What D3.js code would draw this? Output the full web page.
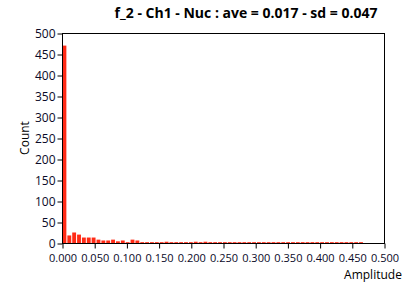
<!DOCTYPE html>
<html>
<head>
<meta charset="utf-8">
<script src="https://cdn.jsdelivr.net/npm/d3@7"></script>
<style>
  body { margin: 0; background: #fff; }
  svg text { font-family: "Segoe UI", "Open Sans", "DejaVu Sans", sans-serif; }
</style>
</head>
<body>
<div id="chart"></div>
<script>
// Histogram of amplitudes
const binWidth = 0.00755;
const counts = [
  470, 18, 25, 20, 13, 13, 13, 8, 6, 6, 8, 4, 6, 2, 8, 6,
  2, 2, 2, 2, 2, 3, 2, 2, 2, 2, 2, 3, 2, 3, 2, 2,
  2, 2, 2, 2, 2, 2, 2, 2, 2, 2, 2, 2, 2, 2, 2, 2,
  2, 2, 2, 2, 2, 2, 2, 2, 2, 2, 2, 2, 2, 2
];
const xTicks = [0, 0.05, 0.1, 0.15, 0.2, 0.25, 0.3, 0.35, 0.4, 0.45, 0.5];
const yTicks = [0, 50, 100, 150, 200, 250, 300, 350, 400, 450, 500];
const title = 'f_2 - Ch1 - Nuc : ave = 0.017 - sd = 0.047';

const width = 408, height = 287;
const m = { left: 62, right: 384, top: 33, bottom: 243 };

const svg = d3.select('#chart').append('svg')
  .attr('width', width).attr('height', height);

const x = d3.scaleLinear().domain([0, 0.5]).range([m.left, m.right]);
const y = d3.scaleLinear().domain([0, 500]).range([m.bottom, m.top]);

// bars
svg.append('g')
  .selectAll('rect')
  .data(counts)
  .enter()
  .append('rect')
  .attr('x', (d, i) => x(i * binWidth) + 0.5)
  .attr('width', x(binWidth) - x(0) - 1)
  .attr('y', d => y(d))
  .attr('height', d => y(0) - y(d))
  .attr('fill', '#ff2b16');

// frame
svg.append('rect')
  .attr('x', m.left + 0.5).attr('y', m.top + 0.5)
  .attr('width', m.right - m.left).attr('height', m.bottom - m.top)
  .attr('fill', 'none').attr('stroke', '#000');

const xAxis = svg.append('g')
  .attr('transform', `translate(0.5, ${m.bottom + 0.5})`)
  .call(d3.axisBottom(x).tickValues(xTicks).tickFormat(d3.format('.3f')).tickSize(5).tickPadding(6));
const yAxis = svg.append('g')
  .attr('transform', `translate(${m.left + 0.5}, 0.5)`)
  .call(d3.axisLeft(y).tickValues(yTicks).tickSize(5).tickPadding(2));

[xAxis, yAxis].forEach(a => {
  a.select('.domain').remove();
  a.selectAll('line').attr('stroke', '#000');
  a.selectAll('text').attr('fill', '#0a0a28');
});
xAxis.selectAll('text').style('font-size', '11px');
yAxis.selectAll('text').style('font-size', '12px');

svg.append('text')
  .attr('x', 246).attr('y', 18)
  .attr('text-anchor', 'middle')
  .style('font-size', '14px')
  .style('font-weight', 'bold')
  .text(title);

svg.append('text')
  .attr('transform', 'translate(29, 138) rotate(-90)')
  .attr('text-anchor', 'middle')
  .style('font-size', '12px')
  .text('Count');

svg.append('text')
  .attr('x', 373).attr('y', 279)
  .attr('text-anchor', 'middle')
  .style('font-size', '12px')
  .text('Amplitude');
</script>
</body>
</html>
